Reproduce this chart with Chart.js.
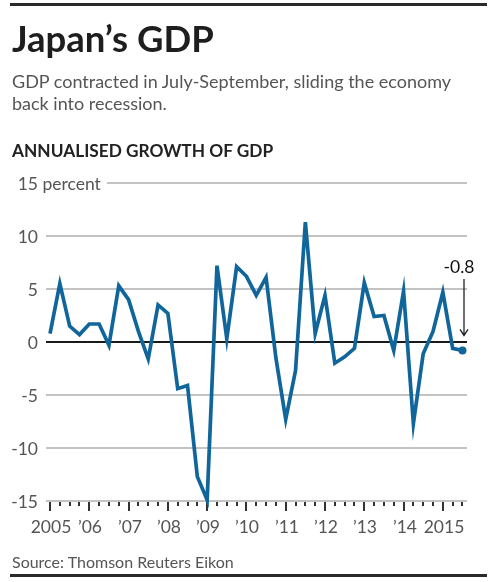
<!DOCTYPE html>
<html>
<head>
<meta charset="utf-8">
<script src="https://cdn.jsdelivr.net/npm/chart.js@4.4.1/dist/chart.umd.min.js"></script>
<style>
  html, body { margin: 0; padding: 0; background: #fff; }
  #wrap { position: relative; width: 500px; height: 582px; overflow: hidden; font-family: Lato, sans-serif; }
  #chart { position: absolute; left: 0; top: 0; }
  .rule { position: absolute; left: 10px; width: 477px; height: 3px; background: #2a2a2a; }
  .txt { position: absolute; left: 12px; white-space: nowrap; }
  #title { top: 15px; font-size: 36.5px; font-weight: 700; color: #1e1e1e; line-height: 46px; }
  #sub { top: 70px; font-size: 18px; color: #555; line-height: 22px; }
  #head { top: 139px; font-size: 17.3px; font-weight: 700; color: #222; line-height: 24px; }
  #source { top: 552px; font-size: 16px; color: #555; line-height: 20px; }
</style>
</head>
<body>
<div id="wrap">
  <canvas id="chart" width="500" height="582"></canvas>
  <div class="rule" style="top:3px"></div>
  <div class="txt" id="title">Japan’s GDP</div>
  <div class="txt" id="sub">GDP contracted in July-September, sliding the economy<br>back into recession.</div>
  <div class="txt" id="head">ANNUALISED GROWTH OF GDP</div>
  <div class="txt" id="source">Source: Thomson Reuters Eikon</div>
  <div class="rule" style="top:574px"></div>
</div>
<script>
// quarterly annualised GDP growth, 2005 Q1 .. 2015 Q3
const yearLabels = ['2005', '’06', '’07', '’08', '’09', '’10', '’11', '’12', '’13', '’14', '2015'];
const growth = [
  0.8, 5.5, 1.5, 0.7,
  1.7, 1.7, -0.3, 5.3,
  4.0, 1.0, -1.6, 3.5,
  2.7, -4.4, -4.1, -12.7,
  -14.9, 7.2, 0.3, 7.1,
  6.2, 4.4, 6.1, -1.5,
  -7.3, -2.7, 11.3, 0.8,
  4.4, -2.0, -1.4, -0.6,
  5.6, 2.4, 2.5, -0.8,
  4.8, -7.7, -1.1, 1.0,
  4.7, -0.6, -0.8
];
const yTicks = [15, 10, 5, 0, -5, -10, -15];

const LINE_BLUE = '#10669a';
const GRID_GREY = '#c3c3c3';

const points = growth.map((v, i) => ({ x: i, y: v }));

const decorPlugin = {
  id: 'decor',
  beforeDatasetsDraw(chart) {
    const ctx = chart.ctx;
    const area = chart.chartArea;
    const ys = chart.scales.y;
    ctx.save();
    ctx.font = '17.5px Lato';
    ctx.fillStyle = '#555';
    ctx.textBaseline = 'middle';
    yTicks.forEach(t => {
      const py = Math.round(ys.getPixelForValue(t));
      let startX = area.left;
      ctx.textAlign = 'right';
      ctx.fillText(String(t), 38, py + 1);
      if (t === 15) {
        ctx.textAlign = 'left';
        ctx.fillText(' percent', 38, py + 1);
        startX = 38 + ctx.measureText(' percent').width + 6;
      }
      ctx.beginPath();
      ctx.lineWidth = 2;
      ctx.strokeStyle = t === 0 ? '#1a1a1a' : GRID_GREY;
      ctx.moveTo(startX, py);
      ctx.lineTo(area.right, py);
      ctx.stroke();
    });

    // x axis ticks and year labels
    const xs = chart.scales.x;
    const base = Math.round(ys.getPixelForValue(-15)) + 1;
    ctx.strokeStyle = '#333';
    ctx.lineWidth = 2;
    ctx.textAlign = 'center';
    ctx.textBaseline = 'alphabetic';
    for (let i = 0; i < growth.length; i++) {
      const px = Math.round(xs.getPixelForValue(i));
      const major = i % 4 === 0;
      ctx.beginPath();
      ctx.moveTo(px, base);
      ctx.lineTo(px, base + (major ? 9 : 4));
      ctx.stroke();
      if (major) ctx.fillText(yearLabels[i / 4], px + 1, 533);
    }
    ctx.restore();
  },
  afterDatasetsDraw(chart) {
    const ctx = chart.ctx;
    const xs = chart.scales.x;
    const ys = chart.scales.y;
    const last = growth.length - 1;
    const px = Math.round(xs.getPixelForValue(last)) + 2;
    const py = ys.getPixelForValue(growth[last]);
    ctx.save();
    ctx.fillStyle = '#111';
    ctx.font = '17.5px Lato';
    ctx.textAlign = 'center';
    ctx.fillText(growth[last].toFixed(1), px - 5, 273);
    ctx.strokeStyle = '#222';
    ctx.lineWidth = 1.3;
    ctx.beginPath();
    ctx.moveTo(px, 279);
    ctx.lineTo(px, py - 15);
    ctx.moveTo(px - 4, py - 21);
    ctx.lineTo(px, py - 15);
    ctx.lineTo(px + 4, py - 21);
    ctx.stroke();
    ctx.restore();
  }
};

new Chart(document.getElementById('chart'), {
  type: 'line',
  data: {
    datasets: [{
      data: points,
      borderColor: LINE_BLUE,
      backgroundColor: LINE_BLUE,
      borderWidth: 3.7,
      tension: 0,
      clip: false,
      pointRadius: growth.map((v, i) => i === growth.length - 1 ? 4 : 0),
      pointBorderWidth: 0
    }]
  },
  options: {
    responsive: false,
    animation: false,
    events: [],
    layout: { padding: { left: 46, right: 33, top: 183, bottom: 81 } },
    plugins: { legend: { display: false }, tooltip: { enabled: false } },
    scales: {
      x: { type: 'linear', min: -0.41, max: 42.46, display: false },
      y: { min: -15, max: 15, display: false }
    }
  },
  plugins: [decorPlugin]
});
</script>
</body>
</html>
